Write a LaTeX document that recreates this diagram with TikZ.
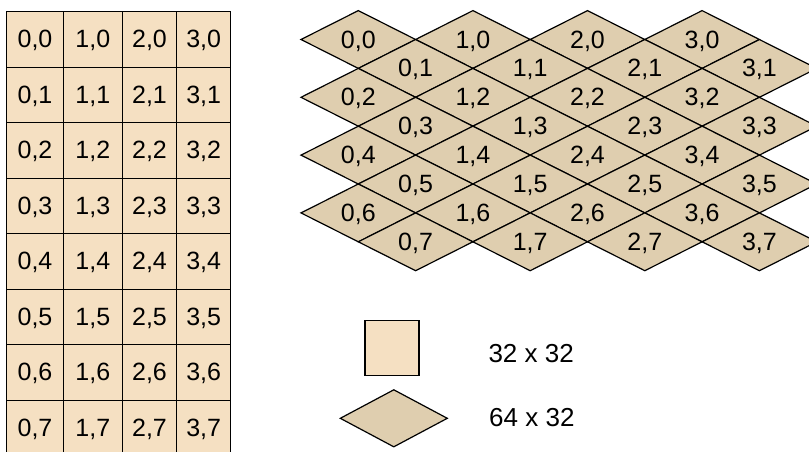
\documentclass[tikz,border=0pt]{standalone}
\usepackage{fontspec}
\setmainfont{Liberation Sans}
\usetikzlibrary{shapes.geometric}
\definecolor{sqfill}{RGB}{245,224,194}
\definecolor{dmfill}{RGB}{223,206,175}
\begin{document}
\begin{tikzpicture}[x=1pt,y=-1pt,
  cell/.style={draw=black, line width=1.3pt, fill=sqfill, inner sep=0pt, outer sep=0pt,
    minimum height=55.5pt, text height=17pt, text depth=0pt, font=\fontsize{25}{25}\selectfont},
  tile/.style={diamond, draw=black, line width=1.2pt, fill=dmfill, inner sep=0pt, outer sep=0pt,
    minimum width=114.6pt, minimum height=57.8pt, text height=17pt, text depth=0pt,
    font=\fontsize{25}{25}\selectfont},
  legtext/.style={anchor=base west, inner sep=0pt, font=\fontsize{26}{26}\selectfont}]
\useasboundingbox (0,0) rectangle (809,451);
\clip (0,0) rectangle (809,451);
% square grid
\foreach \i/\xa/\xb in {0/6.7/63.3, 1/63.3/122.3, 2/122.3/176.7, 3/176.7/230.7} {
  \foreach \j in {0,...,7} {
    \pgfmathsetmacro\w{\xb-\xa}
    \pgfmathsetmacro\cx{(\xa+\xb)/2}
    \pgfmathsetmacro\cy{11.7+55.5*\j+27.75}
    \node[cell, minimum width=\w pt] (g\i\j) at (\cx,\cy) {\i,\j};
  }
}
% diamond grid
\foreach \j in {0,...,7} {
  \foreach \i in {0,...,3} {
    \pgfmathsetmacro\cx{358.3+114.6*\i+57.3*mod(\j,2)}
    \pgfmathsetmacro\cy{39.5+28.9*\j}
    \node[tile] (d\i\j) at (\cx,\cy) {\i,\j};
  }
}
% legend
\node[cell, minimum width=54pt, minimum height=55pt] (sq) at (392,348.2) {};
\node[tile, minimum width=107pt, minimum height=57pt] (ld) at (393.8,418.3) {};
\node[legtext] (t1) at (488.3,362.7) {32 x 32};
\node[legtext] (t2) at (489,426.7) {64 x 32};
\end{tikzpicture}
\end{document}
